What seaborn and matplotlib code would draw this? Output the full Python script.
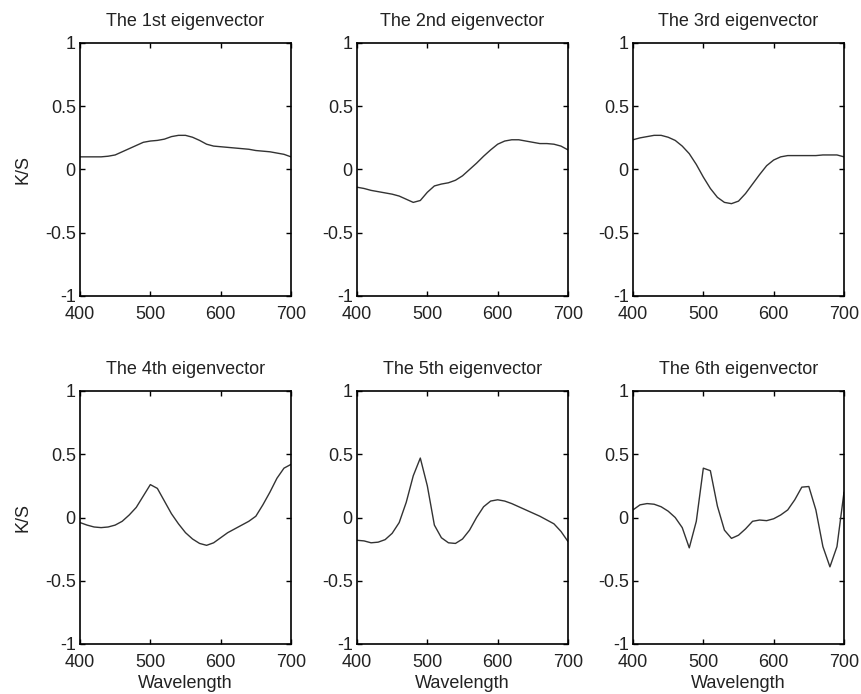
import matplotlib
matplotlib.use("Agg")
import matplotlib.pyplot as plt
import seaborn as sns
import pandas as pd
import numpy as np

wavelength = list(range(400, 701, 10))

ev1 = [0.10, 0.10, 0.10, 0.10, 0.105, 0.115, 0.14, 0.165, 0.19, 0.215, 0.225,
       0.23, 0.24, 0.26, 0.27, 0.27, 0.255, 0.23, 0.20, 0.185, 0.18,
       0.175, 0.17, 0.165, 0.16, 0.15, 0.145, 0.14, 0.13, 0.12, 0.10]
ev2 = [-0.14, -0.15, -0.165, -0.175, -0.185, -0.195, -0.21, -0.235, -0.26, -0.245, -0.18,
       -0.13, -0.115, -0.105, -0.085, -0.05, 0.0, 0.05, 0.105, 0.155, 0.20,
       0.225, 0.235, 0.235, 0.225, 0.215, 0.205, 0.205, 0.20, 0.185, 0.155]
ev3 = [0.235, 0.25, 0.26, 0.27, 0.27, 0.255, 0.23, 0.185, 0.125, 0.04, -0.06,
       -0.15, -0.22, -0.26, -0.27, -0.25, -0.19, -0.115, -0.04, 0.03, 0.075,
       0.10, 0.11, 0.11, 0.11, 0.11, 0.11, 0.115, 0.115, 0.115, 0.10]
ev4 = [-0.04, -0.06, -0.075, -0.08, -0.075, -0.06, -0.03, 0.02, 0.08, 0.17, 0.26,
       0.23, 0.13, 0.03, -0.05, -0.12, -0.17, -0.205, -0.22, -0.20, -0.16,
       -0.12, -0.09, -0.06, -0.03, 0.01, 0.10, 0.20, 0.31, 0.39, 0.42]
ev5 = [-0.18, -0.185, -0.20, -0.195, -0.175, -0.125, -0.04, 0.12, 0.33, 0.47, 0.25,
       -0.06, -0.16, -0.20, -0.205, -0.17, -0.10, 0.0, 0.085, 0.13, 0.14,
       0.13, 0.11, 0.085, 0.06, 0.035, 0.01, -0.02, -0.05, -0.11, -0.19]
ev6 = [0.06, 0.10, 0.11, 0.105, 0.085, 0.05, 0.0, -0.08, -0.24, -0.03, 0.39,
       0.37, 0.09, -0.10, -0.165, -0.14, -0.09, -0.03, -0.02, -0.025, -0.01,
       0.02, 0.06, 0.14, 0.24, 0.245, 0.06, -0.23, -0.39, -0.23, 0.20]

titles = ["The 1st eigenvector", "The 2nd eigenvector", "The 3rd eigenvector",
          "The 4th eigenvector", "The 5th eigenvector", "The 6th eigenvector"]
series = [ev1, ev2, ev3, ev4, ev5, ev6]
xticks = [400, 500, 600, 700]
yticks = [-1, -0.5, 0, 0.5, 1]
ytick_labels = ["-1", "-0.5", "0", "0.5", "1"]

sns.set_style("ticks")
plt.rcParams['font.family'] = ['Liberation Sans', 'DejaVu Sans']

W, H = 862, 694
fig = plt.figure(figsize=(W / 100, H / 100), dpi=100)

col_left = [80, 357, 633]
row_top = [43, 391]
aw, ah = 211, 253
txt = "#222222"

for i, (title, vals) in enumerate(zip(titles, series)):
    r, c = divmod(i, 3)
    left = col_left[c] / W
    bottom = 1 - (row_top[r] + ah) / H
    ax = fig.add_axes([left, bottom, aw / W, ah / H])
    df = pd.DataFrame({"Wavelength": wavelength, "K/S": vals})
    sns.lineplot(data=df, x="Wavelength", y="K/S", ax=ax, color="#333333", linewidth=1.0)
    ax.set_xlim(400, 700)
    ax.set_ylim(-1, 1)
    ax.set_xticks(xticks)
    ax.set_xticklabels([str(t) for t in xticks])
    ax.set_yticks(yticks)
    ax.set_yticklabels(ytick_labels)
    ax.tick_params(direction="in", length=3.5, width=1.0, top=True, right=True,
                   labelsize=13, colors="black", labelcolor=txt)
    ax.tick_params(axis="x", pad=7)
    ax.tick_params(axis="y", pad=3)
    for s in ax.spines.values():
        s.set_linewidth(1.2)
        s.set_color("black")
    ax.set_title(title, fontsize=13, color=txt, pad=12)
    if c == 0:
        ax.set_ylabel("K/S", fontsize=13, color=txt, labelpad=10)
    else:
        ax.set_ylabel("")
    if r == 1:
        ax.set_xlabel("Wavelength", fontsize=13, color=txt, labelpad=3)
    else:
        ax.set_xlabel("")

fig.savefig("out.png", dpi=100)
